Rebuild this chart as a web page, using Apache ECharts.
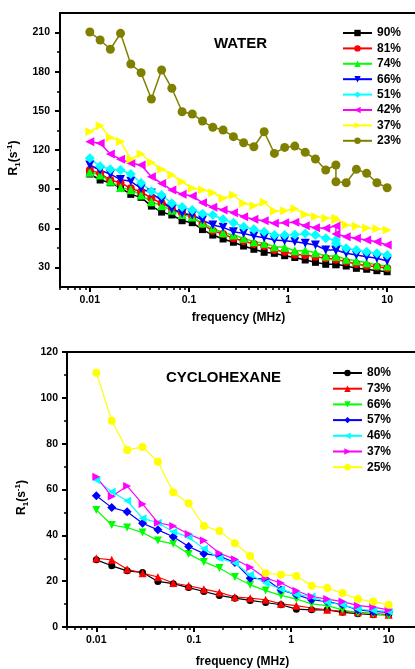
<!DOCTYPE html>
<html><head><meta charset="utf-8">
<script src="https://cdn.jsdelivr.net/npm/echarts@6/dist/echarts.min.js"></script>
<style>html,body{margin:0;padding:0;background:#fff}#c{width:415px;height:669px}</style>
</head><body><div id="c"></div>
<script>
// ---- Water panel data ----
const freqW = [0.01,0.0127,0.0161,0.0204,0.0259,0.0329,0.0418,0.053,0.0672,0.0853,0.108,0.137,0.174,0.221,0.281,0.356,0.452,0.574,0.728,0.924,1.17,1.49,1.89,2.4,3.04,3.04,3.86,4.89,6.21,7.88,10];
const water90 = [101.6,97,94.9,91,86,83.7,77,72.4,70.2,65.8,64.3,59,54.8,51.8,49.3,46.4,43.9,41.6,40.8,39,37.6,35.7,33.9,32.4,32.4,32,31.1,29.3,28.6,27.5,26.7];
const water81 = [104.7,102.1,97,94.9,90.6,88,83,79.1,75.3,71.5,68.9,63,58.1,55.6,52.3,50.2,47.9,46.4,43.4,42.1,40,39.5,38.2,37,36.2,36,34.4,32.6,31.3,30.6,29.3];
const water74 = [103,100.9,96,91.3,89.6,85.5,80.4,77.3,73.8,70.5,68.6,64,60,56.6,54.8,52.3,49.7,48.5,45.9,45.4,42.8,42.9,41.3,38.8,38.8,38.5,36.2,35.2,33.6,31.9,31.1];
const water66 = [108.5,104.5,101.5,97.3,96,90.5,87,81.3,74.8,71.6,70.2,66.3,62.5,60.7,57.4,56.1,54.1,52.8,51,50.5,49.7,48.5,47.2,43.4,43.4,43,40.8,39.5,38.2,37,35];
const water51 = [113.6,107.5,105.2,104.7,101.6,94.7,88.3,85.5,79.1,76.3,74,71.2,70.2,66.9,64.3,61.2,59.2,57.4,54.8,54.8,55,56,54.8,52.3,51,48.5,44.7,43.4,42.1,40.8,39.5];
const water42 = [126.3,125.1,116.9,112.9,109.8,108.5,99.5,94.4,89.3,86,84.7,79.6,76.1,74,72,68.9,66.9,65.8,63.8,64.3,64.6,62,60.5,60,61.7,55.6,53.5,52.3,51,49.7,47.2];
const water37 = [134,138.5,129.6,126.6,113,116.9,110.4,105.3,100.9,95.7,90.6,89.5,87.3,83,85.5,79.1,77.3,79.9,73.2,73.5,75,70.5,69,67.6,67.6,66.5,62.5,61.5,60.2,59.7,58.7];
const water23 = [210.4,204.3,197.2,209.4,185.9,179.2,159.1,181.3,167.3,149.3,147.6,142.2,137.4,135.3,130.2,125.6,122.5,134,117.4,122,123,118.2,113.1,104.7,108.5,95.7,94.9,105.2,102.1,94.9,91.1];
const waterNames = ['90%','81%','74%','66%','51%','42%','37%','23%'];

// ---- Cyclohexane panel data ----
const freqC = [0.01,0.0144,0.0207,0.0298,0.0428,0.0616,0.0886,0.127,0.183,0.264,0.379,0.546,0.785,1.13,1.62,2.34,3.36,4.83,6.95,10];
const cyc80 = [29.3,26.7,24.5,23.8,19.9,18.9,17.2,15.5,13.8,12.6,11.6,10.7,9.7,7.8,7.5,7.5,6.4,5.8,5.4,5.4];
const cyc73 = [30,29.3,25.2,23.5,21.8,19.2,18,16.5,15.1,13.1,12.6,11.9,10.1,9.3,8.3,7.5,6.8,6.4,5.8,5.4];
const cyc66 = [51.1,44.5,43.4,41.2,37.7,36.3,31.9,28.4,25.7,21.8,18.4,15.9,13.8,12.2,10.1,9.3,7.5,6.1,5.8,4.9];
const cyc57 = [57.3,52.1,50.3,45.3,42.4,39.4,35.1,32,31,28.1,21.3,20.9,16.2,14.1,11.9,11.1,9.7,7.5,6.8,6.4];
const cyc46 = [64.1,59,55.1,47.5,45.5,41.6,39.2,34.2,30,27.9,22.8,19.2,16.5,14.1,13.3,10.7,9.7,7.8,7.2,6.8];
const cyc37 = [65.6,56.9,61.5,53.7,45.5,44.1,40.6,37.7,32.2,29.6,26.1,21.3,19.2,15.8,13.3,12.2,11.1,9.3,8.7,7.5];
const cyc25 = [111,90,77.2,78.6,72.1,58.8,54,44.1,41.9,36.6,31,23.5,22.8,22.3,18,17,14.8,12.2,11.1,9.7];
const cycNames = ['80%','73%','66%','57%','46%','37%','25%'];

// ---- Tick values ----
const xMajor = [0.01, 0.1, 1, 10];
const xMinor = [0.005,0.006,0.007,0.008,0.009,0.02,0.03,0.04,0.05,0.06,0.07,0.08,0.09,0.2,0.3,0.4,0.5,0.6,0.7,0.8,0.9,2,3,4,5,6,7,8,9];
const xLabels = ['0.01','0.1','1','10'];
const yMajorW = [30,60,90,120,150,180,210];
const yMinorW = [45,75,105,135,165,195];
const yMajorC = [0,20,40,60,80,100,120];
const yMinorC = [10,30,50,70,90,110];

const FONT = 'Liberation Sans';
const txt = {color:'#000', fontFamily:FONT, fontWeight:'bold', fontSize:10.5};

function xAxes(grid, gap){
  const base = {type:'log', logBase:10, min:0.005, max:20, gridIndex:grid, position:'bottom', splitLine:{show:false}};
  return [
    Object.assign({}, base, {
      axisLine:{show:true, onZero:false, lineStyle:{color:'#000', width:2}},
      axisTick:{show:true, inside:false, length:5, customValues:xMajor, lineStyle:{color:'#000', width:2}},
      axisLabel:Object.assign({show:true, margin:8, customValues:xMajor,
        formatter:(v)=>{const i = xMajor.findIndex(m=>Math.abs(m-v)/m<1e-6); return i>=0?xLabels[i]:'';}}, txt),
      name:'frequency (MHz)', nameLocation:'middle', nameGap:gap,
      nameTextStyle:Object.assign({}, txt, {fontSize:12})
    }),
    Object.assign({}, base, {
      axisLine:{show:false, onZero:false},
      axisTick:{show:true, inside:false, length:3, customValues:xMinor, lineStyle:{color:'#000', width:1.5}},
      axisLabel:{show:false}
    })
  ];
}
function yAxes(grid, min, max, major, minor, margin){
  const base = {type:'value', min:min, max:max, gridIndex:grid, position:'left', splitLine:{show:false}};
  return [
    Object.assign({}, base, {
      axisLine:{show:true, onZero:false, lineStyle:{color:'#000', width:2}},
      axisTick:{show:true, inside:false, length:5, customValues:major, lineStyle:{color:'#000', width:2}},
      axisLabel:Object.assign({show:true, margin:margin, customValues:major}, txt),
      name:'{a|R}{b|1}{a|(s}{c|-1}{a|)}', nameLocation:'middle', nameGap:36, nameRotate:90,
      nameTextStyle:{padding:[0,16,0,0], rich:{
        a:{fontFamily:FONT, fontWeight:'bold', fontSize:12, color:'#000', lineHeight:16},
        b:{fontFamily:FONT, fontWeight:'bold', fontSize:8, color:'#000', verticalAlign:'bottom', lineHeight:16, padding:[6,0,0,0]},
        c:{fontFamily:FONT, fontWeight:'bold', fontSize:8, color:'#000', verticalAlign:'top', lineHeight:16, padding:[0,0,6,0]}
      }}
    }),
    Object.assign({}, base, {
      axisLine:{show:false, onZero:false},
      axisTick:{show:true, inside:false, length:3, customValues:minor, lineStyle:{color:'#000', width:1.5}},
      axisLabel:{show:false}
    })
  ];
}

function mk(name, freq, vals, color, symbol, rot, size, xi, yi, lw){
  return {
    name:name, type:'line', xAxisIndex:xi, yAxisIndex:yi,
    data:freq.map((f,i)=>[f, vals[i]]),
    symbol:symbol, symbolRotate:rot, symbolSize:size, showAllSymbol:true,
    lineStyle:{color:color, width:lw}, itemStyle:{color:color, borderWidth:0},
    emphasis:{disabled:true}, animation:false, clip:false
  };
}
// cyclohexane series get a panel prefix so that legend entries do not collide with the water ones
const CP = 'C ';
const series = [
  mk(waterNames[0], freqW, water90, '#000000', 'rect', 0, 7, 0, 0, 1.5),
  mk(waterNames[1], freqW, water81, '#ff0000', 'circle', 0, 8, 0, 0, 1.5),
  mk(waterNames[2], freqW, water74, '#00ff00', 'triangle', 0, 9, 0, 0, 1.5),
  mk(waterNames[3], freqW, water66, '#0000ff', 'triangle', 180, 9, 0, 0, 1.5),
  mk(waterNames[4], freqW, water51, '#00ffff', 'diamond', 0, 10, 0, 0, 1.5),
  mk(waterNames[5], freqW, water42, '#ff00ff', 'triangle', 90, 9, 0, 0, 1.5),
  mk(waterNames[6], freqW, water37, '#ffff00', 'triangle', -90, 9, 0, 0, 1.5),
  mk(waterNames[7], freqW, water23, '#808000', 'circle', 0, 9, 0, 0, 1.5),
  mk(CP+cycNames[0], freqC, cyc80, '#000000', 'circle', 0, 7, 2, 2, 1.2),
  mk(CP+cycNames[1], freqC, cyc73, '#ff0000', 'triangle', 0, 8, 2, 2, 1.2),
  mk(CP+cycNames[2], freqC, cyc66, '#00ff00', 'triangle', 180, 8, 2, 2, 1.2),
  mk(CP+cycNames[3], freqC, cyc57, '#0000ff', 'diamond', 0, 9, 2, 2, 1.2),
  mk(CP+cycNames[4], freqC, cyc46, '#00ffff', 'triangle', 90, 8, 2, 2, 1.2),
  mk(CP+cycNames[5], freqC, cyc37, '#ff00ff', 'triangle', -90, 8, 2, 2, 1.2),
  mk(CP+cycNames[6], freqC, cyc25, '#ffff00', 'circle', 0, 8, 2, 2, 1.2)
];

const legendText = {color:'#000', fontFamily:FONT, fontWeight:'bold', fontSize:12, lineHeight:14};
const titleText = {color:'#000', fontFamily:FONT, fontWeight:'bold', fontSize:15};
const option = {
  backgroundColor:'#fff',
  animation:false,
  grid:[
    {left:60, top:13, width:357, height:274, outerBoundsMode:'none', containLabel:false,
     show:true, borderColor:'#000', borderWidth:2, backgroundColor:'transparent'},
    {left:67, top:352, width:351, height:275, outerBoundsMode:'none', containLabel:false,
     show:true, borderColor:'#000', borderWidth:2, backgroundColor:'transparent'}
  ],
  xAxis:[].concat(xAxes(0, 25), xAxes(1, 29)),
  yAxis:[].concat(yAxes(0, 15, 225, yMajorW, yMinorW, 10), yAxes(1, 0, 120, yMajorC, yMinorC, 9)),
  title:[
    {text:'WATER', left:214, top:36, padding:0, textStyle:titleText},
    {text:'CYCLOHEXANE', left:166, top:370, padding:0, textStyle:titleText}
  ],
  legend:[
    {data:waterNames.map(n=>({name:n})), orient:'vertical', left:342, top:26, itemWidth:29, itemHeight:8, itemGap:1.4,
     textStyle:legendText, selectedMode:false, padding:0},
    {data:cycNames.map(n=>({name:CP+n})), orient:'vertical', left:332, top:366, itemWidth:29, itemHeight:8, itemGap:1.7,
     textStyle:legendText, selectedMode:false, padding:0, formatter:(n)=>n.slice(CP.length)}
  ],
  series:series
};
const chart = echarts.init(document.getElementById('c'), null, {renderer:'canvas'});
chart.setOption(option);
</script></body></html>
